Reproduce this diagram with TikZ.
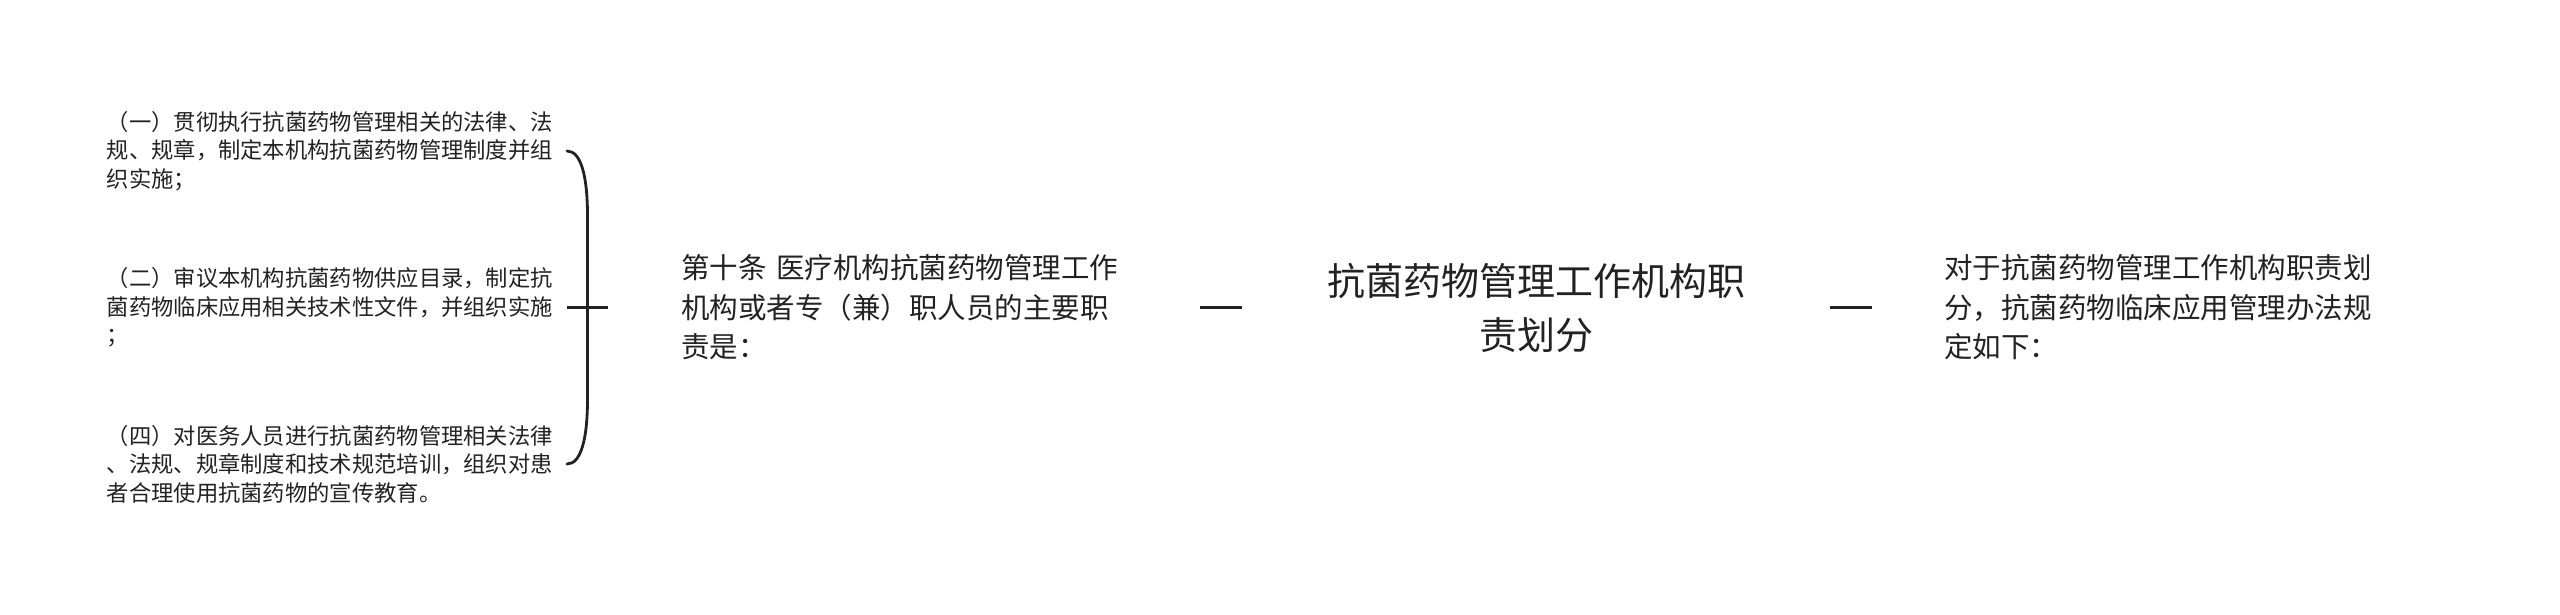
\documentclass[tikz,border=0pt]{standalone}
\usepackage{fontspec}
\setmainfont{Noto Sans CJK SC}
\usetikzlibrary{calc}
\definecolor{ink}{HTML}{222222}
\begin{document}
\begin{tikzpicture}[x=1pt,y=-1pt,
  every node/.style={inner sep=0pt, text=ink},
  leaf/.style={anchor=east, text width=460pt, align=left, font=\fontsize{22.3}{28.5}\selectfont},
  topic/.style={anchor=west, text width=592pt, align=left, font=\fontsize{28.5}{39.5}\selectfont},
  root/.style={minimum width=588pt, align=center, font=\fontsize{38}{54}\selectfont},
  link/.style={draw=ink, line width=2.8pt},
  bracelink/.style={draw=ink, line width=2.8pt, line cap=round}]
\fill[white] (0,0) rectangle (2560,615);
\useasboundingbox (0,0) rectangle (2560,615);
\node[leaf] (l1) at (567,151) {（一）贯彻执行抗菌药物管理相关的法律、法\\规、规章，制定本机构抗菌药物管理制度并组\\织实施；};
\node[leaf] (l2) at (567,307.5) {（二）审议本机构抗菌药物供应目录，制定抗\\菌药物临床应用相关技术性文件，并组织实施\\；};
\node[leaf] (l3) at (567,464) {（四）对医务人员进行抗菌药物管理相关法律\\、法规、规章制度和技术规范培训，组织对患\\者合理使用抗菌药物的宣传教育。};
\node[topic] (m) at (608,307.5) {\leftskip=73pt 第十条 医疗机构抗菌药物管理工作\\机构或者专（兼）职人员的主要职\\责是：\par};
\node[root] (c) at (1536,307.5) {抗菌药物管理工作机构职\\责划分};
\node[topic] (r) at (1872,307.5) {\leftskip=72pt 对于抗菌药物管理工作机构职责划\\分，抗菌药物临床应用管理办法规\\定如下：\par};
\coordinate (bx) at ($(l2.east)!0.5!(m.west)$);
\draw[bracelink] (l1.east) .. controls ($(l1.east)+(14,0)$) and ($(bx|-l1.east)+(0,25)$) .. ($(bx|-l1.east)+(0,65)$) -- ($(bx|-l3.east)+(0,-65)$) .. controls ($(bx|-l3.east)+(0,-25)$) and ($(l3.east)+(14,0)$) .. (l3.east);
\draw[link] (l2.east) -- (m.west);
\draw[link] (m.east) -- (c.west);
\draw[link] (c.east) -- (r.west);
\end{tikzpicture}
\end{document}
